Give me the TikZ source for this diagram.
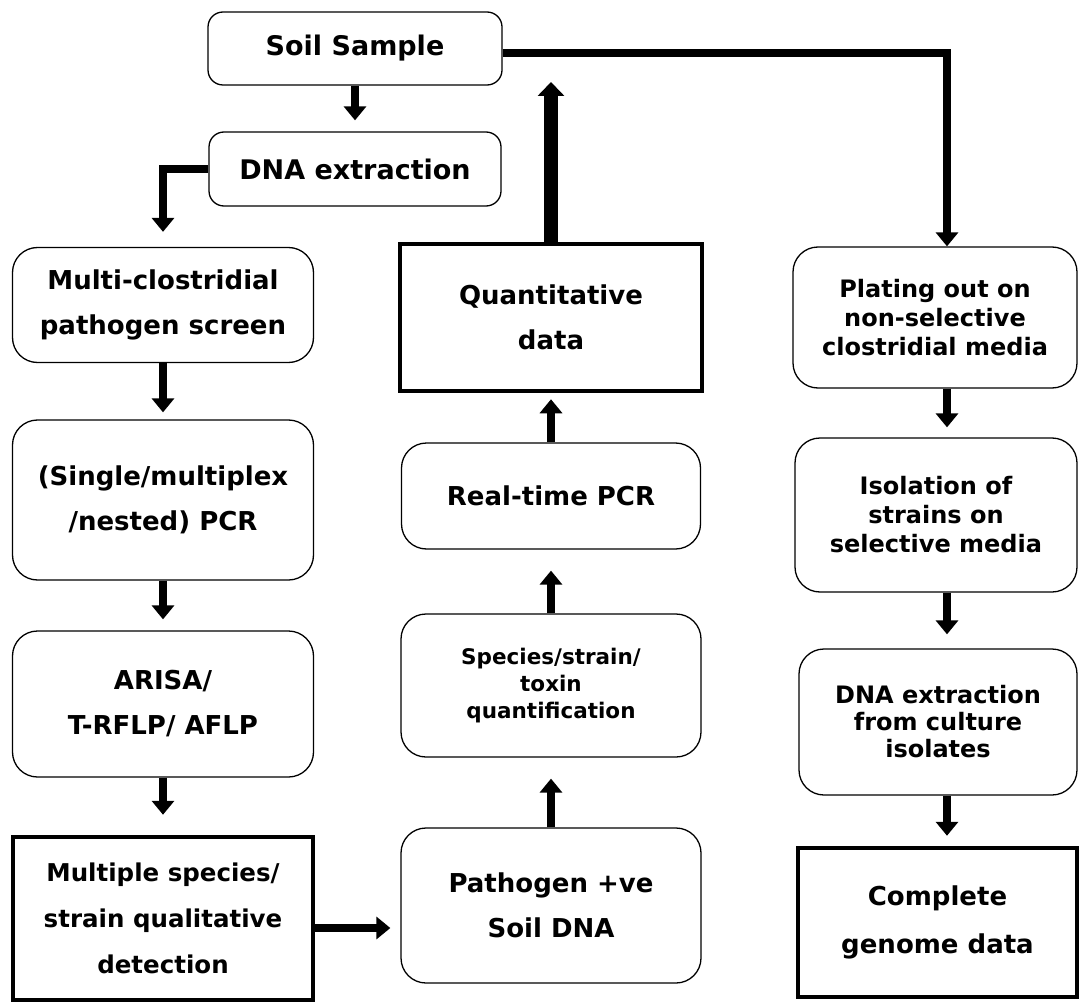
\documentclass[tikz,border=0pt]{standalone}
\usepackage{fontspec}
\setmainfont{DejaVu Sans}
\usetikzlibrary{arrows.meta}

\begin{document}
\begin{tikzpicture}[x=1pt, y=-1pt,
        box/.style={draw=black, line width=1.3pt, rounded corners=25pt, align=center, inner sep=0pt,
            font=\fontsize{26}{45}\selectfont\bfseries},
        databox/.style={box, rounded corners=0pt, line width=4.5pt},
        smalltext/.style={font=\fontsize{24}{29}\selectfont\bfseries},
        arr/.style={line width=8pt, -{Triangle[width=22pt,length=14pt]}},
        bigarr/.style={line width=14pt, -{Triangle[width=26pt,length=14pt]}}]

            \useasboundingbox (0,0) rectangle (1079,1003);

            \coordinate (rcol) at (947,0);
            \coordinate (feedback) at (551,82);

            % Draw top boxes
            \node[box, rounded corners=15pt, minimum width=294pt, minimum height=73pt,
                font=\fontsize{27}{45}\selectfont\bfseries] (soil) at (355,48.5) {Soil Sample};
            \node[box, rounded corners=15pt, minimum width=292pt, minimum height=74pt,
                font=\fontsize{27}{45}\selectfont\bfseries] (dna) at (355,169) {DNA extraction};

            % Draw left column
            \node[box, minimum width=301pt, minimum height=115pt] (screen) at (163,305) {Multi-clostridial\\pathogen screen};
            \node[box, minimum width=301pt, minimum height=160pt] (pcr) at (163,500) {(Single/multiplex\\/nested) PCR};
            \node[box, minimum width=301pt, minimum height=146pt] (arisa) at (163,704) {ARISA/\\T-RFLP/ AFLP};
            \node[databox, minimum width=300pt, minimum height=163pt,
                font=\fontsize{24.5}{46}\selectfont\bfseries] (qual) at (163,918.5) {Multiple species/\\strain qualitative\\detection};

            % Draw middle column
            \node[databox, minimum width=302pt, minimum height=147pt] (quant) at (551,317.5) {Quantitative\\data};
            \node[box, minimum width=299pt, minimum height=106pt] (rtpcr) at (551,496) {Real-time PCR};
            \node[box, minimum width=300pt, minimum height=143pt,
                font=\fontsize{21.5}{27}\selectfont\bfseries] (quantif) at (551,685.5) {Species/strain/\\toxin\\quantification};
            \node[box, minimum width=300pt, minimum height=155pt] (pos) at (551,905.5) {Pathogen +ve\\Soil DNA};

            % Draw right column
            \node[box, smalltext, minimum width=284pt, minimum height=141pt] (plating) at (935,317.5) {Plating out on\\non-selective\\clostridial media};
            \node[box, smalltext, minimum width=282pt, minimum height=154pt] (isolation) at (936,515) {Isolation of\\strains on\\selective media};
            \node[box, smalltext, minimum width=278pt, minimum height=146pt,
                font=\fontsize{24}{27}\selectfont\bfseries] (culture) at (938,722) {DNA extraction\\from culture\\isolates};
            \node[databox, minimum width=279pt, minimum height=149pt,
                font=\fontsize{26}{48}\selectfont\bfseries] (genome) at (937.5,922.5) {Complete\\genome data};

            % Draw arrows (left)
            \draw[arr, shorten >=11pt] (soil) -- (dna);
            \draw[arr, shorten >=15pt] (dna.west) -| (screen.north);
            \draw[arr, shorten >=7pt] (screen) -- (pcr);
            \draw[arr, shorten >=11pt] (pcr) -- (arisa);
            \draw[arr, shorten >=20pt] (arisa) -- (qual);
            \draw[arr, shorten >=10pt] ([yshift=-9.5pt]qual.east) -- ([yshift=-9.5pt]qual.east -| pos.west);

            % Draw arrows (middle)
            \draw[arr, shorten >=21pt] (pos) -- (quantif);
            \draw[arr, shorten >=21pt] (quantif) -- (rtpcr);
            \draw[arr, shorten >=6pt] (rtpcr) -- (quant);
            \draw[bigarr] (quant) -- (feedback);

            % Draw arrows (right)
            \draw[arr] ([yshift=-4.5pt]soil.east) -| (plating.north -| rcol);
            \draw[arr, shorten >=10pt] (plating.south -| rcol) -- (isolation.north -| rcol);
            \draw[arr, shorten >=14pt] (isolation.south -| rcol) -- (culture.north -| rcol);
            \draw[arr, shorten >=10pt] (culture.south -| rcol) -- (genome.north -| rcol);

\end{tikzpicture}
\end{document}
